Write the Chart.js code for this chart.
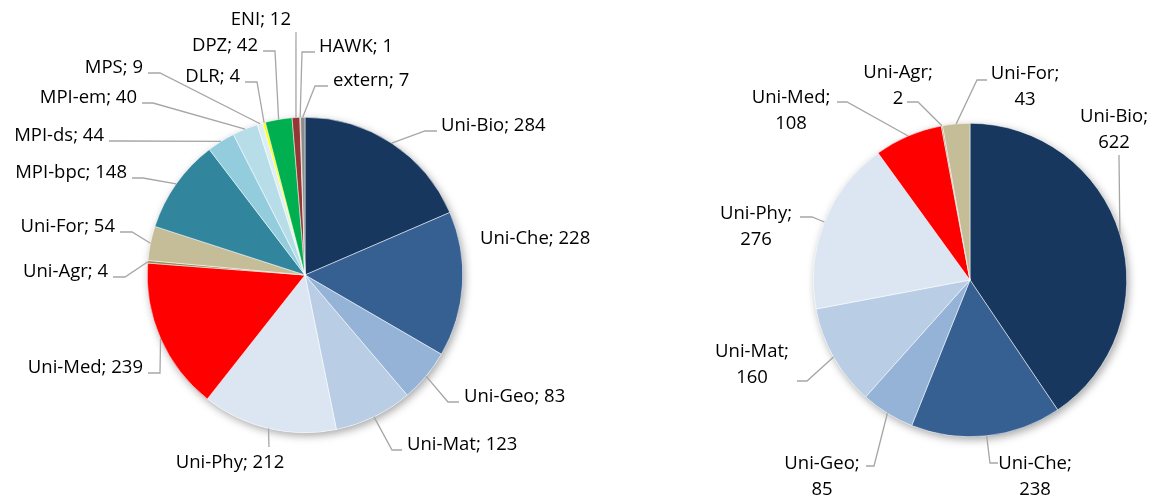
<!DOCTYPE html>
<html lang="de">
<head>
    <meta charset="UTF-8">
    <title>Nutzer nach Einrichtung</title>
    <script src="https://cdn.jsdelivr.net/npm/chart.js"></script>
    <style>
        body {
            margin: 0;
            background: #ffffff;
        }
        #wrap {
            position: relative;
            width: 1155px;
            height: 499px;
        }
        #leftChart {
            position: absolute;
            left: 0;
            top: 0;
        }
        #rightChart {
            position: absolute;
            left: 600px;
            top: 0;
        }
    </style>
</head>
<body>

<div id="wrap">
    <canvas id="leftChart" width="600" height="499"></canvas>
    <canvas id="rightChart" width="555" height="499"></canvas>
</div>

<script>
    // left pie: all institutions
    const leftLabels = ['Uni-Bio', 'Uni-Che', 'Uni-Geo', 'Uni-Mat', 'Uni-Phy', 'Uni-Med', 'Uni-Agr', 'Uni-For',
        'MPI-bpc', 'MPI-ds', 'MPI-em', 'MPS', 'DLR', 'DPZ', 'ENI', 'HAWK', 'extern'];
    const leftValues = [284, 228, 83, 123, 212, 239, 4, 54, 148, 44, 40, 9, 4, 42, 12, 1, 7];
    const leftColors = ['#17375E', '#376092', '#95B3D7', '#B9CDE5', '#DCE6F2', '#FF0000', '#948A54', '#C4BD97',
        '#31859C', '#93CDDD', '#B7DEE8', '#DBEEF4', '#FFFF00', '#00B050', '#953735', '#C0504D', '#8C8C8C'];

    // right pie: university only
    const rightLabels = ['Uni-Bio', 'Uni-Che', 'Uni-Geo', 'Uni-Mat', 'Uni-Phy', 'Uni-Med', 'Uni-Agr', 'Uni-For'];
    const rightValues = [622, 238, 85, 160, 276, 108, 2, 43];
    const rightColors = ['#17375E', '#376092', '#95B3D7', '#B9CDE5', '#DCE6F2', '#FF0000', '#948A54', '#C4BD97'];

    // label placement (page px): text x, baseline y, align, leader end x, leader end y, elbow dx
    const leftLabelLayout = [
        [441, 131, 'left', 437, 131, -12],
        [480, 244, 'left', null, null, 0],
        [464, 402, 'left', 459, 402, -11],
        [407, 450, 'left', 402, 450, -10],
        [230, 468, 'center', 269, 447, 0],
        [143, 373, 'right', 148, 373, 12],
        [108, 277, 'right', 113, 277, 12],
        [115, 232, 'right', 120, 232, 12],
        [127, 178, 'right', 132, 178, 11],
        [104, 141, 'right', 109, 141, 12],
        [137, 103, 'right', 142, 103, 11],
        [143, 73, 'right', 148, 73, 12],
        [240, 82, 'right', 245, 82, 12],
        [258, 51, 'right', 263, 51, 12],
        [291, 25, 'right', 296, 32, 0],
        [319, 52, 'left', 315, 52, -13],
        [333, 86, 'left', 328, 86, -13]
    ];
    const rightLabelLayout = [
        [1114, 122, 'center', 1119, 155, 0],
        [1035, 469, 'center', 998, 463, -8],
        [822, 469, 'center', 866, 466, 8],
        [752, 357, 'center', 797, 381, 10],
        [756, 219, 'center', 800, 217, 12],
        [791, 103, 'center', 837, 102, 10],
        [898, 78, 'center', 907, 102, 11],
        [1025, 79, 'center', 987, 80, -10]
    ];

    const labelFont = '18.5px "Open Sans"';

    // soft shadow behind the whole pie, like the office look
    const pieShadow = {
        id: 'pieShadow',
        beforeDatasetsDraw(chart) {
            const arc = chart.getDatasetMeta(0).data[0];
            if (!arc) return;
            const p = arc.getProps(['x', 'y', 'outerRadius'], true);
            const ctx = chart.ctx;
            ctx.save();
            ctx.shadowColor = 'rgba(0,0,0,0.35)';
            ctx.shadowBlur = 8;
            ctx.shadowOffsetX = 2;
            ctx.shadowOffsetY = 3;
            ctx.fillStyle = '#ffffff';
            ctx.beginPath();
            ctx.arc(p.x, p.y, p.outerRadius, 0, Math.PI * 2);
            ctx.fill();
            ctx.restore();
        }
    };

    // leader lines + "name; value" labels
    const leaderLabels = {
        id: 'leaderLabels',
        afterDatasetsDraw(chart, args, opts) {
            const ctx = chart.ctx;
            const meta = chart.getDatasetMeta(0);
            const ds = chart.data.datasets[0];
            ctx.save();
            ctx.font = labelFont;
            ctx.fillStyle = '#000000';
            ctx.textBaseline = 'alphabetic';
            meta.data.forEach((arc, i) => {
                const lay = opts.layout[i];
                const p = arc.getProps(['x', 'y', 'startAngle', 'endAngle', 'outerRadius'], true);
                const mid = (p.startAngle + p.endAngle) / 2;
                const sx = p.x + Math.cos(mid) * p.outerRadius;
                const sy = p.y + Math.sin(mid) * p.outerRadius;
                const ox = opts.offsetX;
                if (lay[3] !== null) {
                    const ex = lay[3] - ox, ey = lay[4];
                    ctx.strokeStyle = '#A6A6A6';
                    ctx.lineWidth = 1.3;
                    ctx.beginPath();
                    ctx.moveTo(sx, sy);
                    ctx.lineTo(ex + lay[5], ey);
                    ctx.lineTo(ex, ey);
                    ctx.stroke();
                }
                ctx.textAlign = lay[2];
                const name = chart.data.labels[i];
                const val = ds.data[i];
                if (opts.twoLines) {
                    ctx.fillText(name + ';', lay[0] - ox, lay[1]);
                    ctx.fillText(String(val), lay[0] - ox, lay[1] + 26);
                } else {
                    ctx.fillText(name + '; ' + val, lay[0] - ox, lay[1]);
                }
            });
            ctx.restore();
        }
    };

    function makePie(canvasId, labels, values, colors, layout, padding, offsetX, twoLines) {
        return new Chart(document.getElementById(canvasId), {
            type: 'pie',
            data: {
                labels: labels,
                datasets: [{
                    data: values,
                    backgroundColor: colors,
                    borderColor: '#ffffff',
                    borderWidth: 0.5
                }]
            },
            options: {
                responsive: false,
                animation: false,
                layout: { padding: padding },
                plugins: {
                    legend: { display: false },
                    tooltip: { enabled: false },
                    leaderLabels: { layout: layout, offsetX: offsetX, twoLines: twoLines }
                }
            },
            plugins: [pieShadow, leaderLabels]
        });
    }

    makePie('leftChart', leftLabels, leftValues, leftColors, leftLabelLayout,
        { left: 147, right: 137, top: 117, bottom: 66 }, 0, false);
    makePie('rightChart', rightLabels, rightValues, rightColors, rightLabelLayout,
        { left: 213, right: 28, top: 123, bottom: 62 }, 600, true);
</script>

</body>
</html>
